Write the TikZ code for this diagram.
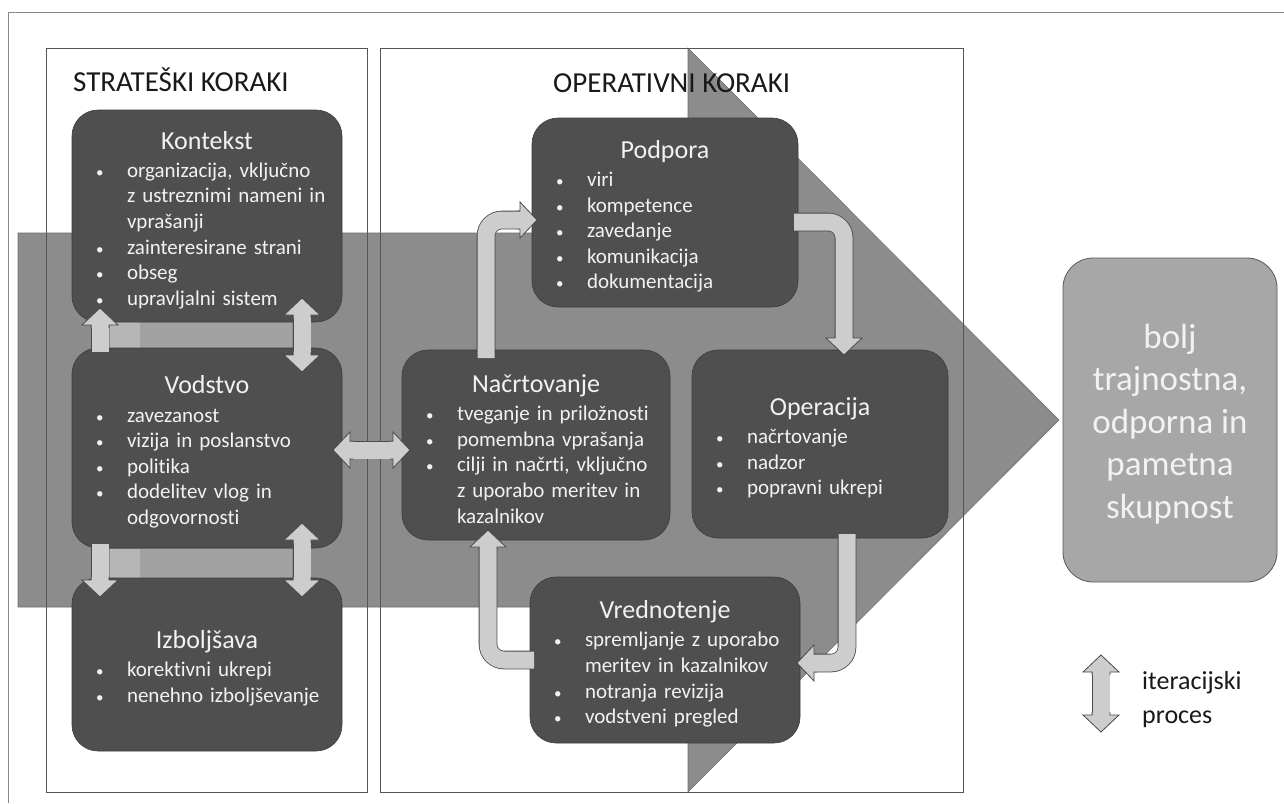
\documentclass[tikz,border=0pt]{standalone}
\usepackage{fontspec}
\setmainfont{Carlito}[Ligatures=CommonOff]
\usetikzlibrary{calc}
\definecolor{boxfill}{HTML}{4F4F4F}
\definecolor{boxline}{HTML}{3C3C3C}
\definecolor{bandfill}{HTML}{8C8C8C}
\definecolor{bandline}{HTML}{6E6E6E}
\definecolor{arrfill}{HTML}{CDCDCD}
\definecolor{arrline}{HTML}{4A4A4A}
\definecolor{resfill}{HTML}{A7A7A7}
\definecolor{resline}{HTML}{5A5A5A}
\definecolor{txtlight}{HTML}{F2F2F2}
\definecolor{framecol}{HTML}{555555}
\definecolor{outercol}{HTML}{8A8A8A}
\definecolor{stripfill}{HTML}{A2A2A2}
\definecolor{stripl}{HTML}{B6B6B6}
\newcommand\nl{\hfil\break}
\newcommand\btitle[1]{{\centering\fontsize{26}{28}\selectfont #1\par}\vspace{2.5pt}}
\newcommand\bitem[1]{\hangindent=55pt\hangafter=1\noindent\hspace*{24pt}\makebox[31pt][l]{\fontsize{15}{15}\selectfont •}#1\par}
\newcommand\ahead[2]{%
  \begin{scope}[shift={(#1)}, rotate=#2]
    \fill[arrfill] (-20pt,8.9pt) -- (-17pt,8.9pt) -- (-17pt,18pt) -- (0pt,0pt) -- (-17pt,-18pt) -- (-17pt,-8.9pt) -- (-20pt,-8.9pt) -- cycle;
    \draw[arrline, line width=0.8pt, line join=miter] (-20pt,8.9pt) -- (-17pt,8.9pt) -- (-17pt,18pt) -- (0pt,0pt) -- (-17pt,-18pt) -- (-17pt,-8.9pt) -- (-20pt,-8.9pt);
  \end{scope}}
\tikzset{
  box/.style={draw=boxline, line width=0.6pt, fill=boxfill, rounded corners=26pt, inner sep=0pt, outer sep=0pt, anchor=north west},
  resbox/.style={draw=resline, line width=0.8pt, fill=resfill, rounded corners=30pt, inner sep=0pt, outer sep=0pt, anchor=north west},
  btext/.style={inner sep=0pt, text=txtlight, yshift=-4pt, font=\fontsize{21}{25.6}\selectfont, execute at begin node=\raggedright},
  header/.style={inner sep=0pt, anchor=base west, font=\fontsize{29}{34}\selectfont, text=black!90},
  shaft/.style={draw=arrline, line width=0.8pt, double=arrfill, double distance=17pt, rounded corners=16pt},
}
\begin{document}
\begin{tikzpicture}[x=1pt,y=-1pt]
\useasboundingbox (0,0) rectangle (1284,803);
\fill[white] (0,0) rectangle (1284,803);
% outer frame
\draw[outercol, line width=0.8pt] (8,803) -- (8,12) -- (1284,12);
% big band arrow
\fill[bandfill, draw=bandline, line width=0.6pt] (18,233) -- (688,233) -- (688,48) -- (1059,420) -- (688,792) -- (688,607) -- (18,607) -- cycle;
% frames
\draw[framecol, line width=0.8pt] (46,48) rectangle (367,792);
\draw[framecol, line width=0.8pt] (380,48) rectangle (963,792);
% light strips
\fill[stripfill] (110,322) rectangle (292,348);
\fill[stripl] (110,322) rectangle (140,348);
\fill[stripfill] (110,549) rectangle (292,578);
\fill[stripl] (110,549) rectangle (140,578);
% headers
\node[header] (hstr) at (73,91) {STRATEŠKI KORAKI};
\node[header] (hop) at (553,92) {OPERATIVNI KORAKI};
% boxes
\node[box, minimum width=270pt, minimum height=212pt] (ctx) at (72,110) {};
\node[box, minimum width=270pt, minimum height=200pt] (lead) at (72,348) {};
\node[box, minimum width=270pt, minimum height=173pt] (imp) at (72,578) {};
\node[box, minimum width=266pt, minimum height=189pt] (sup) at (532,118) {};
\node[box, minimum width=268pt, minimum height=190pt] (plan) at (402,350) {};
\node[box, minimum width=256pt, minimum height=188pt] (op) at (692,350) {};
\node[box, minimum width=270pt, minimum height=166pt] (eval) at (530,577) {};
\node[resbox, minimum width=214pt, minimum height=324pt] (res) at (1063,258) {};
% box texts
\node[btext, text width=270pt] (ctxT) at (ctx.center) {\btitle{Kontekst}%
\bitem{organizacija, vključno\nl z ustreznimi nameni in\nl vprašanji}%
\bitem{zainteresirane strani}\bitem{obseg}\bitem{upravljalni sistem}};
\node[btext, text width=270pt] (leadT) at (lead.center) {\btitle{Vodstvo}%
\bitem{zavezanost}\bitem{vizija in poslanstvo}\bitem{politika}%
\bitem{dodelitev vlog in\nl odgovornosti}};
\node[btext, text width=270pt] (impT) at (imp.center) {\btitle{Izboljšava}%
\bitem{korektivni ukrepi}\bitem{nenehno izboljševanje}};
\node[btext, text width=266pt] (supT) at (sup.center) {\btitle{Podpora}%
\bitem{viri}\bitem{kompetence}\bitem{zavedanje}\bitem{komunikacija}\bitem{dokumentacija}};
\node[btext, text width=268pt] (planT) at (plan.center) {\btitle{Načrtovanje}%
\bitem{tveganje in priložnosti}\bitem{pomembna vprašanja}%
\bitem{cilji in načrti, vključno\nl z uporabo meritev in\nl kazalnikov}};
\node[btext, text width=256pt] (opT) at (op.center) {\btitle{Operacija}%
\bitem{načrtovanje}\bitem{nadzor}\bitem{popravni ukrepi}};
\node[btext, text width=270pt] (evalT) at (eval.center) {\btitle{Vrednotenje}%
\bitem{spremljanje z uporabo\nl meritev in kazalnikov}\bitem{notranja revizija}\bitem{vodstveni pregled}};
\node[inner sep=0pt, align=center, text=txtlight, yshift=-4pt, font=\fontsize{35}{42.5}\selectfont] (resT) at (res.center) {bolj\\trajnostna,\\odporna in\\pametna\\skupnost};
% strategic arrows
\coordinate (a0) at ([xshift=28pt,yshift=-4pt]lead.north west);
\coordinate (a1) at ([xshift=28pt,yshift=14pt]ctx.south west);
\draw[shaft, shorten >=17pt] (a0) -- (a1); \ahead{a1}{90}
\coordinate (b0) at ([xshift=-40pt,yshift=24pt]ctx.south east);
\coordinate (b1) at ([xshift=-40pt,yshift=-24pt]lead.north east);
\draw[shaft, shorten >=17pt, shorten <=17pt] (b0) -- (b1); \ahead{b0}{90}\ahead{b1}{-90}
\coordinate (c0) at ([xshift=28pt,yshift=4pt]lead.south west);
\coordinate (c1) at ([xshift=28pt,yshift=-19pt]imp.north west);
\draw[shaft, shorten >=17pt] (c0) -- (c1); \ahead{c1}{-90}
\coordinate (d0) at ([xshift=-40pt,yshift=25pt]lead.south east);
\coordinate (d1) at ([xshift=-40pt,yshift=-19pt]imp.north east);
\draw[shaft, shorten >=17pt, shorten <=17pt] (d0) -- (d1); \ahead{d0}{90}\ahead{d1}{-90}
\coordinate (e0) at ([xshift=-9pt,yshift=-2pt]lead.east);
\coordinate (e1) at ([xshift=8pt,yshift=-5pt]plan.west);
\draw[shaft, shorten >=17pt, shorten <=17pt] (e0) -- (e1); \ahead{e0}{180}\ahead{e1}{0}
% operational cycle
\coordinate (p0) at ([xshift=84pt,yshift=-8pt]plan.north west);
\coordinate (p1) at ([xshift=5pt,yshift=-7.5pt]sup.west);
\draw[shaft, shorten >=17pt] (p0) |- (p1); \ahead{p1}{0}
\coordinate (q0) at ([xshift=-4pt,yshift=-9.5pt]sup.east);
\coordinate (q1) at ([xshift=24pt,yshift=-5pt]op.north);
\draw[shaft, shorten >=17pt] (q0) -| (q1); \ahead{q1}{-90}
\coordinate (r0) at ([xshift=27pt,yshift=4pt]op.south);
\coordinate (r1) at ([xshift=-3pt,yshift=-3pt]eval.east);
\draw[shaft, shorten >=17pt] (r0) |- (r1); \ahead{r1}{180}
\coordinate (s0) at ([xshift=4pt]eval.west);
\coordinate (s1) at ([xshift=-48pt,yshift=10pt]plan.south);
\draw[shaft, shorten >=17pt] (s0) -| (s1); \ahead{s1}{90}
% legend
\coordinate (lg0) at (1101,655);
\coordinate (lg1) at (1101,732);
\draw[shaft, shorten >=17pt, shorten <=17pt] (lg0) -- (lg1); \ahead{lg0}{90}\ahead{lg1}{-90}
\node[inner sep=0pt, anchor=west, align=left, text=black!90, font=\fontsize{26}{34}\selectfont] (lgT) at (1142,700) {iteracijski\\proces};
\end{tikzpicture}
\end{document}
